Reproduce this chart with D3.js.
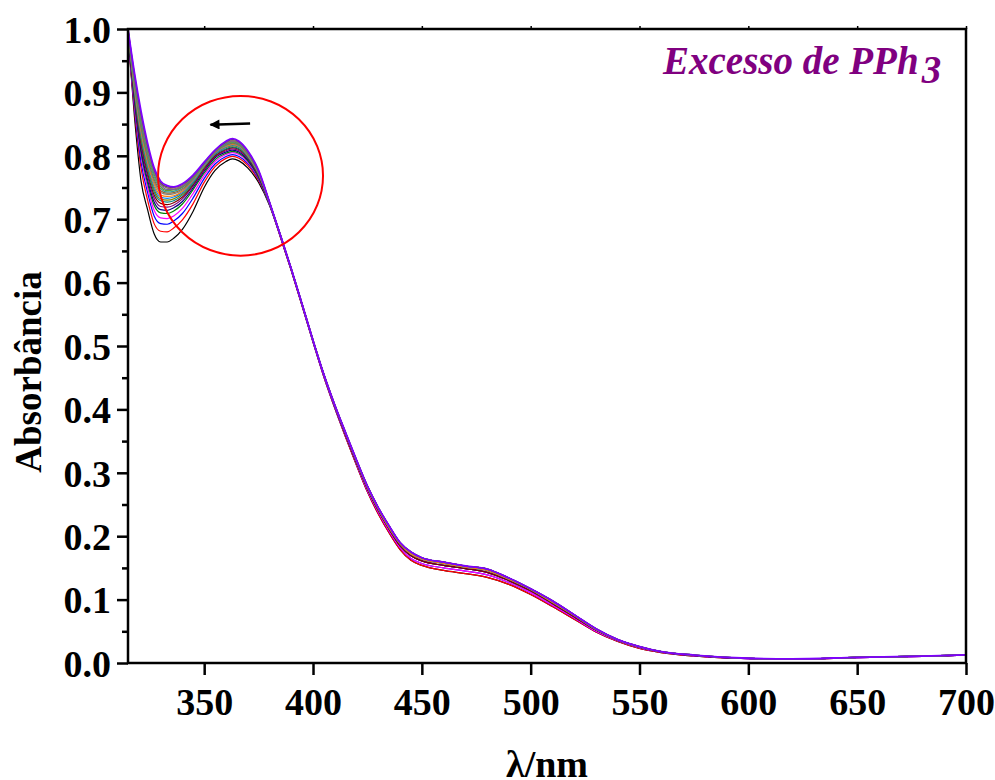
<!DOCTYPE html>
<html>
<head>
<meta charset="utf-8">
<script src="https://cdn.jsdelivr.net/npm/d3@7"></script>
<style>
  body { margin: 0; background: #ffffff; }
  svg text { font-family: "Liberation Serif", "Times New Roman", serif; font-weight: bold; }
</style>
</head>
<body>
<div id="chart"></div>
<script>
// wavelengths (nm)
var wlHead = [315, 318, 321, 324, 327, 330, 333, 336, 340, 345, 350, 355, 360, 363, 366, 370, 375, 380];
var wlTail = [385, 390, 395, 400, 405, 410, 415, 420, 425, 430, 435, 440, 445, 450, 460, 470, 480, 490, 500,
              510, 520, 530, 540, 550, 560, 575, 600, 620, 650, 680, 700];

// absorbance, 315-380 nm, one array per spectrum (first = black, last = violet)
var curve01 = [0.990, 0.860, 0.760, 0.715, 0.677, 0.664, 0.664, 0.670, 0.684, 0.713, 0.750, 0.777, 0.791, 0.795, 0.792, 0.781, 0.758, 0.722];
var curve02 = [0.990, 0.870, 0.780, 0.730, 0.693, 0.681, 0.680, 0.686, 0.699, 0.725, 0.758, 0.783, 0.796, 0.799, 0.796, 0.785, 0.761, 0.723];
var curve03 = [0.992, 0.875, 0.790, 0.742, 0.705, 0.693, 0.692, 0.697, 0.709, 0.734, 0.764, 0.787, 0.799, 0.802, 0.799, 0.788, 0.763, 0.723];
var curve04 = [0.993, 0.880, 0.800, 0.750, 0.714, 0.702, 0.701, 0.705, 0.717, 0.741, 0.769, 0.791, 0.802, 0.805, 0.802, 0.790, 0.765, 0.724];
var curve05 = [0.994, 0.885, 0.805, 0.757, 0.722, 0.710, 0.709, 0.713, 0.724, 0.747, 0.773, 0.794, 0.804, 0.807, 0.804, 0.792, 0.766, 0.724];
var curve06 = [0.995, 0.888, 0.810, 0.762, 0.727, 0.715, 0.714, 0.718, 0.728, 0.750, 0.776, 0.797, 0.806, 0.809, 0.806, 0.794, 0.767, 0.725];
var curve07 = [0.996, 0.892, 0.816, 0.768, 0.733, 0.720, 0.719, 0.722, 0.732, 0.753, 0.778, 0.799, 0.808, 0.811, 0.808, 0.796, 0.768, 0.725];
var curve08 = [0.996, 0.895, 0.821, 0.773, 0.738, 0.725, 0.723, 0.726, 0.735, 0.755, 0.780, 0.800, 0.810, 0.813, 0.810, 0.797, 0.769, 0.725];
var curve09 = [0.997, 0.898, 0.826, 0.778, 0.743, 0.729, 0.727, 0.729, 0.738, 0.757, 0.782, 0.802, 0.811, 0.814, 0.811, 0.798, 0.770, 0.725];
var curve10 = [0.997, 0.901, 0.830, 0.782, 0.747, 0.732, 0.730, 0.732, 0.740, 0.759, 0.783, 0.803, 0.813, 0.816, 0.813, 0.799, 0.771, 0.726];
var curve11 = [0.997, 0.904, 0.834, 0.786, 0.751, 0.735, 0.733, 0.735, 0.742, 0.760, 0.784, 0.804, 0.814, 0.817, 0.814, 0.800, 0.772, 0.726];
var curve12 = [0.998, 0.907, 0.838, 0.790, 0.755, 0.738, 0.736, 0.737, 0.744, 0.762, 0.785, 0.805, 0.815, 0.818, 0.815, 0.801, 0.772, 0.726];
var curve13 = [0.998, 0.910, 0.842, 0.794, 0.759, 0.742, 0.739, 0.740, 0.746, 0.763, 0.786, 0.806, 0.816, 0.819, 0.816, 0.802, 0.773, 0.726];
var curve14 = [0.998, 0.913, 0.846, 0.798, 0.763, 0.745, 0.741, 0.742, 0.748, 0.764, 0.787, 0.806, 0.817, 0.820, 0.817, 0.803, 0.774, 0.726];
var curve15 = [0.999, 0.916, 0.850, 0.802, 0.767, 0.748, 0.743, 0.744, 0.750, 0.765, 0.787, 0.807, 0.818, 0.821, 0.818, 0.804, 0.774, 0.727];
var curve16 = [0.999, 0.919, 0.854, 0.806, 0.771, 0.751, 0.745, 0.746, 0.751, 0.766, 0.788, 0.807, 0.819, 0.822, 0.819, 0.805, 0.775, 0.727];
var curve17 = [0.999, 0.922, 0.858, 0.810, 0.774, 0.754, 0.747, 0.747, 0.752, 0.767, 0.788, 0.808, 0.820, 0.823, 0.820, 0.806, 0.775, 0.727];
var curve18 = [1.000, 0.925, 0.862, 0.813, 0.777, 0.756, 0.749, 0.748, 0.753, 0.768, 0.789, 0.808, 0.821, 0.824, 0.821, 0.806, 0.776, 0.727];
var curve19 = [1.000, 0.928, 0.866, 0.817, 0.779, 0.758, 0.751, 0.750, 0.755, 0.769, 0.789, 0.809, 0.822, 0.826, 0.822, 0.807, 0.776, 0.727];
var curve20 = [1.000, 0.930, 0.870, 0.820, 0.781, 0.760, 0.753, 0.751, 0.756, 0.770, 0.790, 0.809, 0.823, 0.827, 0.823, 0.808, 0.777, 0.727];

// absorbance, 385-700 nm: the spectra overlap here, so they are read as a few lines across the band
var tailLow     = [0.672, 0.619, 0.563, 0.506, 0.451, 0.402, 0.356, 0.312, 0.270, 0.235, 0.205, 0.179, 0.162, 0.154, 0.146, 0.141, 0.135,
                   0.124, 0.108, 0.089, 0.069, 0.049, 0.034, 0.023, 0.0165, 0.011, 0.0068, 0.0060, 0.0085, 0.0105, 0.0122];
var tailLowMid  = [0.673, 0.620, 0.564, 0.507, 0.452, 0.403, 0.358, 0.314, 0.272, 0.238, 0.208, 0.182, 0.165, 0.157, 0.150, 0.145, 0.139,
                   0.127, 0.111, 0.091, 0.071, 0.050, 0.035, 0.024, 0.0170, 0.0115, 0.0070, 0.0062, 0.0086, 0.0106, 0.0123];
var tailMid     = [0.674, 0.621, 0.565, 0.508, 0.454, 0.405, 0.360, 0.316, 0.275, 0.241, 0.211, 0.185, 0.169, 0.161, 0.154, 0.149, 0.143,
                   0.130, 0.114, 0.094, 0.073, 0.052, 0.036, 0.025, 0.0175, 0.012, 0.0072, 0.0063, 0.0088, 0.0108, 0.0125];
var tailMidHigh = [0.675, 0.622, 0.566, 0.509, 0.455, 0.406, 0.362, 0.318, 0.277, 0.243, 0.213, 0.188, 0.172, 0.164, 0.157, 0.151, 0.146,
                   0.132, 0.116, 0.096, 0.075, 0.053, 0.0365, 0.0255, 0.0178, 0.0122, 0.0074, 0.0064, 0.0089, 0.0109, 0.0127];
var tailHigh    = [0.675, 0.622, 0.566, 0.509, 0.455, 0.407, 0.363, 0.320, 0.279, 0.245, 0.216, 0.190, 0.175, 0.166, 0.159, 0.153, 0.148,
                   0.134, 0.117, 0.098, 0.076, 0.054, 0.037, 0.026, 0.018, 0.0125, 0.0075, 0.0065, 0.0090, 0.0110, 0.0128];

var heads = [curve01, curve02, curve03, curve04, curve05, curve06, curve07, curve08, curve09, curve10,
             curve11, curve12, curve13, curve14, curve15, curve16, curve17, curve18, curve19, curve20];
var tails = [tailLow, tailLow, tailLowMid, tailLowMid, tailMid, tailMid, tailMid, tailMid, tailMidHigh, tailMidHigh,
             tailMidHigh, tailMidHigh, tailHigh, tailHigh, tailHigh, tailHigh, tailHigh, tailHigh, tailHigh, tailHigh];

var curveColors = ["#000000", "#ff0000", "#0000ff", "#ff00ff", "#008000", "#000080", "#800080", "#800000",
                   "#008080", "#808000", "#0080ff", "#ff8000", "#808080", "#996633", "#339999", "#669933",
                   "#666699", "#996666", "#4d4d4d", "#7f00ff"];

var xTicks = [350, 400, 450, 500, 550, 600, 650, 700];
var yTicks = [0, 0.1, 0.2, 0.3, 0.4, 0.5, 0.6, 0.7, 0.8, 0.9, 1.0];
var yMinor = [0.05, 0.15, 0.25, 0.35, 0.45, 0.55, 0.65, 0.75, 0.85, 0.95];

var width = 995, height = 780;
var plotLeft = 128, plotRight = 966, plotTop = 29, plotBottom = 663;

var svg = d3.select("#chart").append("svg")
    .attr("width", width).attr("height", height);

var x = d3.scaleLinear().domain([315, 700]).range([plotLeft, plotRight]);
var y = d3.scaleLinear().domain([0, 1]).range([plotBottom, plotTop]);

svg.append("clipPath").attr("id", "plot-clip")
    .append("rect").attr("x", plotLeft).attr("y", plotTop)
    .attr("width", plotRight - plotLeft).attr("height", plotBottom - plotTop);

//Spectra
var line = d3.line()
    .x(function(d){ return x(d[0]); })
    .y(function(d){ return y(d[1]); })
    .curve(d3.curveMonotoneX);

var spectra = heads.map(function(h, i){
    var pts = wlHead.map(function(w, j){ return [w, h[j]]; });
    return pts.concat(wlTail.map(function(w, j){ return [w, tails[i][j]]; }));
});

svg.append("g").attr("clip-path", "url(#plot-clip)")
    .selectAll("path")
    .data(spectra)
    .enter()
    .append("path")
    .attr("d", line)
    .attr("fill", "none")
    .attr("stroke", function(d, i){ return curveColors[i]; })
    .attr("stroke-width", function(d, i){ return i === spectra.length - 1 ? 1.8 : 1.2; });

//Axes
var xAxis = svg.append("g")
    .attr("transform", "translate(0," + plotBottom + ")")
    .call(d3.axisBottom(x).tickValues(xTicks).tickSize(12).tickPadding(13).tickFormat(d3.format("d")));
xAxis.select(".domain").remove();
xAxis.selectAll("line").attr("stroke-width", 2.5);
xAxis.selectAll("text").attr("font-size", "38px").attr("fill", "#000");

var xTopAxis = svg.append("g")
    .attr("transform", "translate(0," + plotTop + ")")
    .call(d3.axisTop(x).tickValues(xTicks).tickSize(3).tickFormat(""));
xTopAxis.select(".domain").remove();
xTopAxis.selectAll("line").attr("stroke-width", 1.5);

var yAxis = svg.append("g")
    .attr("transform", "translate(" + plotLeft + ",0)")
    .call(d3.axisLeft(y).tickValues(yTicks).tickSize(11).tickPadding(6).tickFormat(d3.format(".1f")));
yAxis.select(".domain").remove();
yAxis.selectAll("line").attr("stroke-width", 2.5);
yAxis.selectAll("text").attr("font-size", "38px").attr("fill", "#000").attr("dy", "0.35em");

var yMinorAxis = svg.append("g")
    .attr("transform", "translate(" + plotLeft + ",0)")
    .call(d3.axisLeft(y).tickValues(yMinor).tickSize(6).tickFormat(""));
yMinorAxis.select(".domain").remove();
yMinorAxis.selectAll("line").attr("stroke-width", 2.5);

// frame
svg.append("rect")
    .attr("x", plotLeft).attr("y", plotTop)
    .attr("width", plotRight - plotLeft).attr("height", plotBottom - plotTop)
    .attr("fill", "none").attr("stroke", "#000").attr("stroke-width", 2.5);

//Axis titles
svg.append("text")
    .attr("x", (plotLeft + plotRight) / 2).attr("y", 777)
    .attr("text-anchor", "middle")
    .attr("font-size", "38px")
    .text("λ/nm");

svg.append("text")
    .attr("transform", "translate(41,372) rotate(-90)")
    .attr("text-anchor", "middle")
    .attr("font-size", "37px")
    .text("Absorbância");

//Annotation text
var note = svg.append("text")
    .attr("x", 663).attr("y", 74)
    .attr("font-size", "39px")
    .attr("font-style", "italic")
    .attr("fill", "#800080");
note.append("tspan").text("Excesso de PPh");
note.append("tspan").attr("dy", 9).attr("dx", 3).text("3");

// red circle round the 360 nm band
svg.append("ellipse")
    .attr("cx", x(366.7)).attr("cy", y(0.7685))
    .attr("rx", x(366.7 + 37.9) - x(366.7))
    .attr("ry", y(0.7685) - y(0.7685 + 0.126))
    .attr("fill", "none").attr("stroke", "#ff0000").attr("stroke-width", 2);

// arrow
svg.append("defs").append("marker")
    .attr("id", "arrow-head")
    .attr("viewBox", "0 0 10 10")
    .attr("refX", 9).attr("refY", 5)
    .attr("markerWidth", 5).attr("markerHeight", 4)
    .attr("orient", "auto")
    .append("path").attr("d", "M0,0 L10,5 L0,10 Z").attr("fill", "#000");

svg.append("line")
    .attr("x1", x(371.1)).attr("y1", y(0.851))
    .attr("x2", x(352.9)).attr("y2", y(0.849))
    .attr("stroke", "#000").attr("stroke-width", 2.5)
    .attr("marker-end", "url(#arrow-head)");
</script>
</body>
</html>
